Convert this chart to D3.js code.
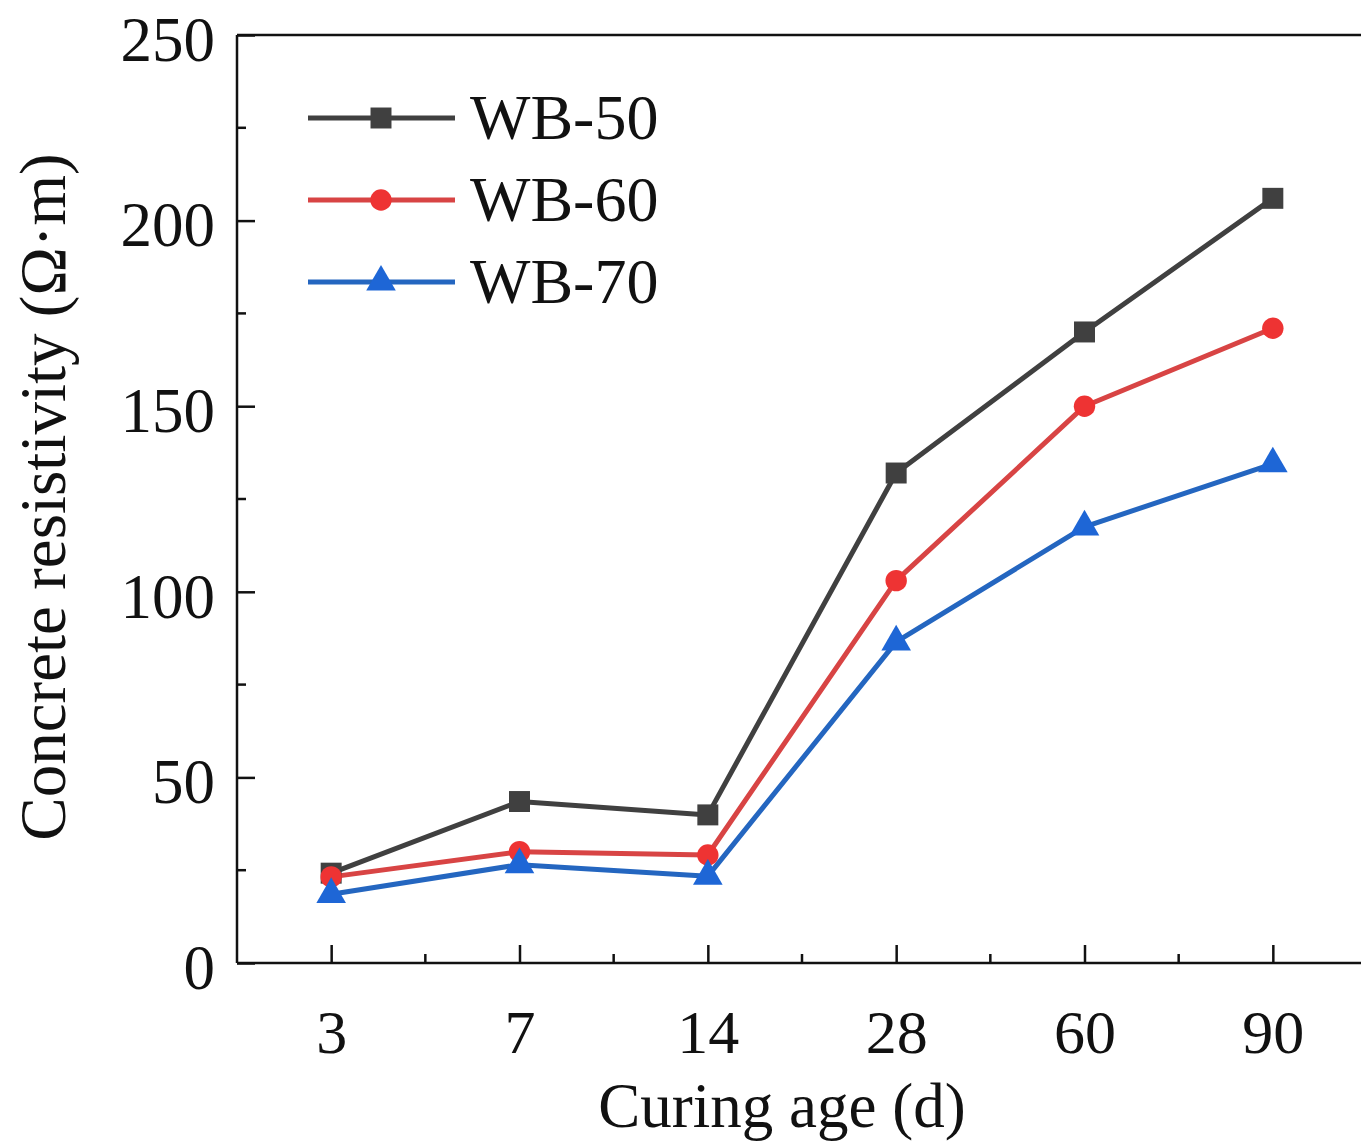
<!DOCTYPE html>
<html>
<head>
<meta charset="utf-8">
<script src="https://cdn.jsdelivr.net/npm/d3@7/dist/d3.min.js"></script>
<style>
  html, body { margin: 0; padding: 0; background: #fff; }
  svg { display: block; }
  text { font-family: "Liberation Serif", "Times New Roman", serif; fill: #111; }
</style>
</head>
<body>
<svg id="chart" width="1361" height="1145"></svg>
<script>
// Curing ages (categorical x axis)
const categories = ["3", "7", "14", "28", "60", "90"];

// Concrete resistivity (Ω·m) for each water-binder ratio
const wb50 = [24.2, 43.5, 39.9, 132, 170, 206];
const wb60 = [23.2, 30, 29.1, 103, 150, 171];
const wb70 = [18.5, 26.5, 23.4, 86.5, 117.5, 134.5];

const seriesNames = ["WB-50", "WB-60", "WB-70"];
const yTicks = [0, 50, 100, 150, 200, 250];
const yMinorTicks = [25, 75, 125, 175, 225];

const series = [
  { name: seriesNames[0], values: wb50, line: "#404040", fill: "#404040", shape: d3.symbolSquare, size: 440 },
  { name: seriesNames[1], values: wb60, line: "#d84444", fill: "#ee3333", shape: d3.symbolCircle, size: 360 },
  { name: seriesNames[2], values: wb70, line: "#2466c0", fill: "#1e66d6", shape: d3.symbolTriangle, size: 380 }
];

const svg = d3.select("#chart");
const plot = { left: 237, top: 35, right: 1367, bottom: 963 };

const x = d3.scalePoint().domain(categories).range([plot.left, plot.right]).padding(0.5);
const y = d3.scaleLinear().domain([0, 250]).range([plot.bottom, plot.top]);

// Frame: left, bottom, top edges
svg.append("line").attr("x1", plot.left).attr("x2", plot.left).attr("y1", plot.top).attr("y2", plot.bottom)
  .attr("stroke", "#111").attr("stroke-width", 2.5);
svg.append("line").attr("x1", plot.left).attr("x2", plot.right).attr("y1", plot.bottom).attr("y2", plot.bottom)
  .attr("stroke", "#111").attr("stroke-width", 2.5);
svg.append("line").attr("x1", plot.left).attr("x2", plot.right).attr("y1", plot.top).attr("y2", plot.top)
  .attr("stroke", "#111").attr("stroke-width", 2.5);

// Y axis: inward major ticks with labels
const yAxis = svg.append("g").attr("transform", `translate(${plot.left},0)`)
  .call(d3.axisLeft(y).tickValues(yTicks).tickSize(-18).tickPadding(0).tickFormat(d3.format("d")));
yAxis.select(".domain").remove();
yAxis.selectAll(".tick line").attr("stroke", "#111").attr("stroke-width", 2.5);
yAxis.selectAll(".tick text")
  .attr("x", -22).attr("dy", "0.4em")
  .style("font-size", "63px").style("font-family", "Liberation Serif, serif").attr("fill", "#111");

// Y minor ticks
svg.append("g").selectAll("line").data(yMinorTicks).join("line")
  .attr("x1", plot.left).attr("x2", plot.left + 9)
  .attr("y1", d => y(d)).attr("y2", d => y(d))
  .attr("stroke", "#111").attr("stroke-width", 2.5);

// X axis: inward major ticks at each age
const xAxis = svg.append("g").attr("transform", `translate(0,${plot.bottom})`)
  .call(d3.axisBottom(x).tickSize(-18).tickPadding(0));
xAxis.select(".domain").remove();
xAxis.selectAll(".tick line").attr("stroke", "#111").attr("stroke-width", 2.5);
xAxis.selectAll(".tick text")
  .attr("y", 90).attr("dy", 0)
  .style("font-size", "62px").style("font-family", "Liberation Serif, serif").attr("fill", "#111");

// X minor ticks halfway between categories
const step = x.step();
const xMinor = categories.slice(0, -1).map(c => x(c) + step / 2);
svg.append("g").selectAll("line").data(xMinor).join("line")
  .attr("x1", d => d).attr("x2", d => d)
  .attr("y1", plot.bottom).attr("y2", plot.bottom - 9)
  .attr("stroke", "#111").attr("stroke-width", 2.5);

// Axis titles
svg.append("text")
  .attr("x", 782).attr("y", 1127)
  .attr("text-anchor", "middle")
  .style("font-size", "63px")
  .text("Curing age (d)");

svg.append("text")
  .attr("transform", `translate(65,${497}) rotate(-90)`)
  .attr("text-anchor", "middle")
  .style("font-size", "65px")
  .text("Concrete resistivity (Ω·m)");

// Series lines and markers
const lineGen = d3.line().x((d, i) => x(categories[i])).y(d => y(d));

series.forEach(s => {
  svg.append("path")
    .datum(s.values)
    .attr("d", lineGen)
    .attr("fill", "none")
    .attr("stroke", s.line)
    .attr("stroke-width", 5)
    .attr("stroke-linejoin", "round");
});

series.forEach(s => {
  svg.append("g").selectAll("path").data(s.values).join("path")
    .attr("d", d3.symbol().type(s.shape).size(s.size))
    .attr("transform", (d, i) => `translate(${x(categories[i])},${y(d)})`)
    .attr("fill", s.fill);
});

// Legend
const legend = svg.append("g");
const legendY = [118, 200, 282];
series.forEach((s, i) => {
  const g = legend.append("g").attr("transform", `translate(0,${legendY[i]})`);
  g.append("line").attr("x1", 308).attr("x2", 455).attr("y1", 0).attr("y2", 0)
    .attr("stroke", s.line).attr("stroke-width", 5);
  g.append("path")
    .attr("d", d3.symbol().type(s.shape).size(s.size))
    .attr("transform", "translate(381,0)")
    .attr("fill", s.fill);
  g.append("text").attr("x", 470).attr("y", 21)
    .style("font-size", "64px")
    .text(s.name);
});
</script>
</body>
</html>
